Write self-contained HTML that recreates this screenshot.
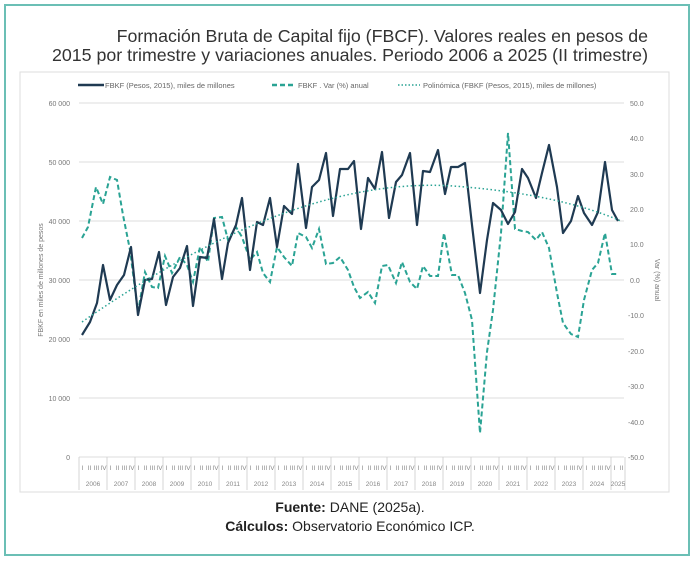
<!DOCTYPE html>
<html><head><meta charset="utf-8"><style>
html,body{margin:0;padding:0;background:#fff;}
body{width:700px;height:563px;position:relative;font-family:"Liberation Sans",sans-serif;overflow:hidden;}
.outer{position:absolute;left:4px;top:4px;width:686px;height:552px;border:2px solid #6bbfb5;box-sizing:border-box;}
.t{position:absolute;right:52px;font-size:17.8px;color:#333;white-space:nowrap;}
.f{position:absolute;left:0;width:700px;text-align:center;font-size:14px;color:#222;}
</style></head><body>
<div class="outer"></div>
<div class="t" style="top:26px;">Formación Bruta de Capital fijo (FBCF). Valores reales en pesos de</div>
<div class="t" style="top:45px;">2015 por trimestre y variaciones anuales. Periodo 2006 a 2025 (II trimestre)</div>
<svg width="700" height="563" style="position:absolute;left:0;top:0" font-family="Liberation Sans, sans-serif">
<rect x="20" y="72" width="649" height="420" fill="none" stroke="#ddd"/>
<line x1="78" y1="85" x2="104" y2="85" stroke="#1f3a52" stroke-width="2.5"/>
<text x="105" y="88" font-size="7.5" fill="#666">FBKF (Pesos, 2015), miles de millones</text>
<line x1="272" y1="85" x2="296" y2="85" stroke="#2aa394" stroke-width="2.5" stroke-dasharray="5,3"/>
<text x="298" y="88" font-size="7.5" fill="#666">FBKF . Var (%) anual</text>
<line x1="398" y1="85" x2="420" y2="85" stroke="#2aa394" stroke-width="1.5" stroke-dasharray="1.5,2"/>
<text x="423" y="88" font-size="7.5" fill="#666">Polinómica (FBKF (Pesos, 2015), miles de millones)</text>
<g stroke="#ddd" stroke-width="1">
<line x1="79" y1="103" x2="624" y2="103"/><line x1="79" y1="162" x2="624" y2="162"/>
<line x1="79" y1="221" x2="624" y2="221"/><line x1="79" y1="280" x2="624" y2="280"/>
<line x1="79" y1="339" x2="624" y2="339"/><line x1="79" y1="398" x2="624" y2="398"/>
<line x1="79" y1="457" x2="624" y2="457"/>
</g>
<g font-size="7" fill="#777" text-anchor="end">
<text x="70" y="106">60 000</text><text x="70" y="165">50 000</text><text x="70" y="224">40 000</text>
<text x="70" y="283">30 000</text><text x="70" y="342">20 000</text><text x="70" y="401">10 000</text><text x="70" y="460">0</text>
</g>
<g font-size="7" fill="#777" text-anchor="start">
<text x="630" y="106">50.0</text><text x="630" y="141">40.0</text><text x="630" y="177">30.0</text>
<text x="630" y="212">20.0</text><text x="630" y="247">10.0</text><text x="630" y="283">0.0</text>
<text x="628" y="318">-10.0</text><text x="628" y="354">-20.0</text><text x="628" y="389">-30.0</text>
<text x="628" y="425">-40.0</text><text x="628" y="460">-50.0</text>
</g>
<text transform="translate(43,280) rotate(-90)" font-size="7" fill="#777" text-anchor="middle">FBKF en miles de millones de pesos</text>
<text transform="translate(655,280) rotate(90)" font-size="7" fill="#777" text-anchor="middle">Var (%) anual</text>
<g id="cat" stroke="#ccc" stroke-width="0.8"></g>
<g font-size="6.5" fill="#888" text-anchor="middle" id="catt"></g>
<polyline fill="none" stroke="#2aa394" stroke-width="2" stroke-dasharray="5,3" points="82,238 88,227 96,187 103,204 110,177 117,180 123,215 130,250 138,312 145,272 152,287 158,288 165,256 172,273 180,257 187,265 193,282 200,247 208,262 214,218 222,217 228,240 236,227 242,237 250,260 257,252 263,273 270,282 277,247 284,257 292,266 298,233 306,237 312,248 319,229 326,264 333,263 340,257 348,270 354,287 360,298 368,292 375,303 382,266 388,265 396,283 402,262 410,282 417,289 423,266 430,276 438,276 444,233 452,275 458,275 465,293 472,320 480,433 487,352 493,310 501,233 508,133 515,229 522,231 528,232 536,240 542,232 549,248 557,293 563,323 571,334 578,337 584,300 592,270 598,263 605,233 612,274 618,274"/>
<polyline fill="none" stroke="#1f3a52" stroke-width="2.2" stroke-linejoin="round" points="82,335 90,322 97,303 103,265 110,300 117,285 124,275 131,247 138,315 145,280 152,279 159,252 166,305 173,277 180,268 187,246 193,306 200,257 207,258 214,219 222,279 228,243 236,225 242,198 250,270 257,222 263,225 270,198 277,247 284,206 292,214 298,164 306,228 312,187 319,180 326,153 333,216 340,169 348,169 354,161 361,229 368,178 375,189 382,152 389,218 396,182 402,175 410,153 417,225 423,171 430,172 438,150 445,194 451,167 458,167 465,163 472,225 480,293 487,240 493,203 501,210 508,224 515,212 522,169 528,178 536,198 542,173 549,145 557,187 563,233 571,221 578,196 584,213 592,225 598,212 605,162 612,210 618,221"/>
<path d="M82,322 Q300,170 465,187 Q560,195 621,221" fill="none" stroke="#2aa394" stroke-width="1.5" stroke-dasharray="1.5,2.5"/>
</svg>
<div class="f" style="top:499px;"><b>Fuente:</b> DANE (2025a).</div>
<div class="f" style="top:518px;"><b>Cálculos:</b> Observatorio Económico ICP.</div>
<script>
var g=document.getElementById('cat'),t=document.getElementById('catt'),ns='http://www.w3.org/2000/svg';
function L(x1,y1,x2,y2){var l=document.createElementNS(ns,'line');l.setAttribute('x1',x1);l.setAttribute('y1',y1);l.setAttribute('x2',x2);l.setAttribute('y2',y2);g.appendChild(l);}
function T(x,y,s){var e=document.createElementNS(ns,'text');e.setAttribute('x',x);e.setAttribute('y',y);e.textContent=s;t.appendChild(e);}
var q=['I','II','III','IV'];
for(var y=0;y<20;y++){var x0=79+y*28;L(x0,457,x0,490);
 var n=y==19?2:4;for(var k=0;k<n;k++)T(x0+3.5+k*7,470,q[k]);
 T(x0+(y==19?7:14),486,String(2006+y));}
L(625,457,625,490);
</script>
</body></html>
